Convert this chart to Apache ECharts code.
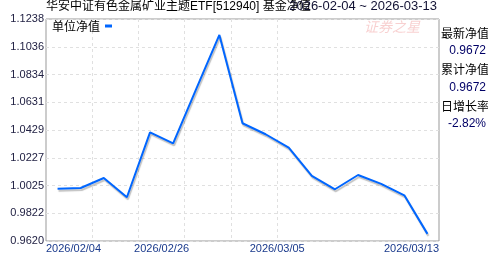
<!DOCTYPE html>
<html>
<head>
<meta charset="utf-8">
<script src="https://cdn.jsdelivr.net/npm/echarts@6/dist/echarts.min.js"></script>
<style>html,body{margin:0;padding:0;background:#fff;}#c{width:488px;height:255px;}</style>
</head>
<body>
<div id="c"></div>
<script>
var dates = ['2026/02/04','2026/02/05','2026/02/06','2026/02/24','2026/02/25','2026/02/26','2026/02/27','2026/03/02','2026/03/03','2026/03/04','2026/03/05','2026/03/06','2026/03/09','2026/03/10','2026/03/11','2026/03/12','2026/03/13'];
var navValues = [1.0000, 1.0006, 1.0079, 0.9939, 1.0412, 1.0332, 1.0728, 1.1122, 1.0478, 1.0398, 1.0300, 1.0094, 0.9997, 1.0101, 1.0036, 0.9953, 0.9672];
var yTicks = ['0.9620','0.9822','1.0025','1.0227','1.0429','1.0631','1.0834','1.1036','1.1238'];
var xLabelIdx = [0, 5, 10, 17];
var titleText = '华安中证有色金属矿业主题ETF[512940] 基金净值';
var rangeText = '2026-02-04 ~ 2026-03-13';
var seriesName = '单位净值';
var sideLabels = ['最新净值','累计净值','日增长率'];
var sideValues = ['0.9672','0.9672','-2.82%'];

var yMin = 0.962, yMax = 1.1238, yInt = (yMax - yMin) / 8;
var LATIN = '"Liberation Sans", Arial, "Noto Sans CJK SC", sans-serif';

// boundary labels (18 positions between/around bands)
var boundary = [];
for (var i = 0; i <= dates.length; i++) {
  var d = dates[Math.min(i, dates.length - 1)];
  var item = {value: d + '#' + i};
  if (i === 0) item.textStyle = {align: 'left'};
  if (i === dates.length) item.textStyle = {align: 'right'};
  boundary.push(item);
}

var chart = echarts.init(document.getElementById('c'), null, {renderer: 'canvas'});
var g = [];
for (var k = 0; k < sideLabels.length; k++) {
  g.push({type: 'text', left: 441, top: 27 + k * 36.5, style: {text: sideLabels[k], font: '12px "Noto Sans CJK SC", sans-serif', fill: '#000'}});
  g.push({type: 'text', right: 2, top: 45 + k * 36.5, style: {text: sideValues[k], font: '12px ' + LATIN, fill: '#000066', textAlign: 'right'}});
}
g.push({type: 'text', left: 364, top: 20, style: {text: '证券之星', font: 'italic 14px "Noto Sans CJK SC", sans-serif', fill: 'rgba(235,120,120,0.35)'}});

chart.setOption({
  animation: false,
  title: [
    {text: titleText, left: 46, top: 1, padding: 0, textStyle: {fontSize: 12, fontWeight: 'normal', color: '#000', fontFamily: LATIN}},
    {text: rangeText, right: 51, top: 0, padding: 0, textStyle: {fontSize: 13, fontWeight: 'normal', color: '#111133', fontFamily: LATIN}}
  ],
  legend: {
    left: 52, top: 20, padding: 0, align: 'right', itemWidth: 7, itemHeight: 3, itemGap: 2,
    data: [{name: seriesName, icon: 'rect'}],
    textStyle: {fontSize: 12, color: '#000', fontFamily: '"Noto Sans CJK SC", sans-serif', padding: [0, 0, 0, 0]}
  },
  grid: {left: 46, right: 49, top: 19, bottom: 14, show: true, borderColor: '#999', borderWidth: 1, containLabel: false},
  xAxis: [
    {type: 'category', data: dates, boundaryGap: true, show: false},
    {type: 'category', data: boundary, boundaryGap: false, position: 'bottom',
      axisLine: {show: false}, axisTick: {show: false},
      axisLabel: {interval: function (i) { return xLabelIdx.indexOf(i) >= 0; }, margin: 2, fontSize: 11, color: '#1a3a8c', fontFamily: LATIN,
        formatter: function (v) { return v.split('#')[0]; }},
      splitLine: {show: true, interval: function (i) { return i > 0 && i <= 10 && i % 2 === 0; }, lineStyle: {color: '#e0e0e0', type: [3, 3]}}
    }
  ],
  yAxis: {
    type: 'value', min: yMin, max: yMax, interval: yInt,
    axisLine: {show: false}, axisTick: {show: false},
    axisLabel: {margin: 2, fontSize: 11, color: '#222244', fontFamily: LATIN,
      formatter: function (v) { return yTicks[Math.round((v - yMin) / yInt)]; }},
    splitLine: {show: true, lineStyle: {color: '#e0e0e0', type: [3, 3]}}
  },
  series: [{
    name: seriesName, type: 'line', xAxisIndex: 0, data: navValues, symbol: 'none',
    itemStyle: {color: '#0066ff'},
    lineStyle: {color: '#0066ff', width: 2, shadowColor: 'rgba(0,0,0,0.25)', shadowOffsetX: 1, shadowOffsetY: 2, shadowBlur: 1}
  }],
  graphic: g
});
</script>
</body>
</html>
